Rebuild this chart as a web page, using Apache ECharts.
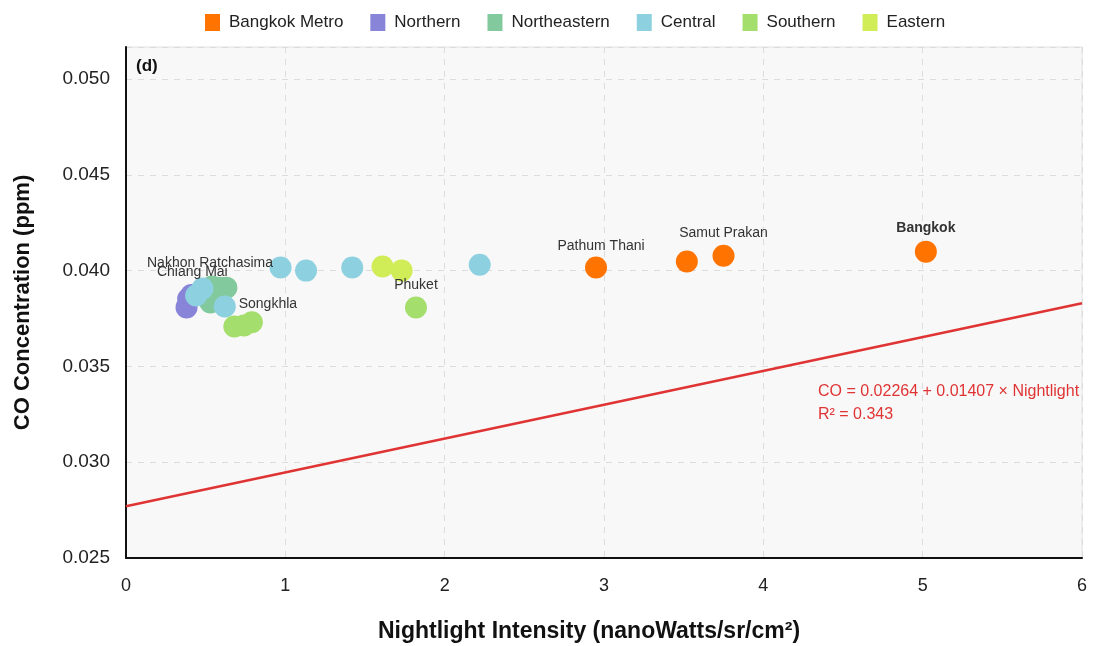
<!DOCTYPE html>
<html lang="en">
	<head>
		<meta charset="UTF-8">
		<title>CO vs Nightlight</title>
		<style type="text/css">
			html,
			body {
				width: 100%;
				height: 100%;
				margin: 0;
				padding: 0;
				background: #fff;
			}

			#main {
				width: 1093px;
				height: 646px;
			}
		</style>
	</head>
	<body>
		<div id="main"></div>

		<script src="https://cdn.jsdelivr.net/npm/echarts@6/dist/echarts.min.js" type="text/javascript" charset="utf-8"></script>
		<script type="text/javascript">
			// region names and colours
			let regions = ['Bangkok Metro', 'Northern', 'Northeastern', 'Central', 'Southern', 'Eastern'];
			let colors = ['#ff7300', '#8884d8', '#82ca9d', '#8dd1e1', '#a4de6c', '#d0ed57'];

			// [nightlight, CO] per province
			let bangkokMetro = [[2.95, 0.04016], [3.52, 0.04047], [3.75, 0.04078], [5.02, 0.04099]];
			let northern = [[0.38, 0.03808], [0.39, 0.03853], [0.41, 0.03872]];
			let northeastern = [[0.53, 0.03833], [0.515, 0.03854], [0.54, 0.03917], [0.59, 0.03911], [0.63, 0.03911]];
			let central = [[0.44, 0.03870], [0.48, 0.03906], [0.62, 0.03813], [0.97, 0.04016], [1.13, 0.04000], [1.42, 0.04016], [2.22, 0.04031]];
			let southern = [[0.68, 0.03708], [0.74, 0.03714], [0.79, 0.03730], [1.82, 0.03807]];
			let eastern = [[1.61, 0.04021], [1.73, 0.04000]];

			// province names: [series index, point index, name]
			let pointNames = [
				[0, 0, 'Pathum Thani'],
				[0, 2, 'Samut Prakan'],
				[0, 3, 'Bangkok'],
				[1, 2, 'Chiang Mai'],
				[2, 2, 'Nakhon Ratchasima'],
				[4, 2, 'Songkhla'],
				[4, 3, 'Phuket']
			];

			// drawn fit line
			let fitX = [0, 6];
			let fitY = [0.0277, 0.0383];
			let fitText = ['CO = 0.02264 + 0.01407 × Nightlight', 'R² = 0.343'];

			let xTicks = [0, 1, 2, 3, 4, 5, 6];
			let yTicks = [0.025, 0.030, 0.035, 0.040, 0.045, 0.050];

			let allData = [bangkokMetro, northern, northeastern, central, southern, eastern];

			// label nudges (px) so names sit like in the original
			let labelOffsets = {
				'Pathum Thani': [5, -21],
				'Samut Prakan': [0, -23],
				'Bangkok': [0, -23],
				'Chiang Mai': [1, -23],
				'Nakhon Ratchasima': [-2, -23],
				'Songkhla': [16, -18],
				'Phuket': [0, -22]
			};

			let font = "'Liberation Sans', Arial, sans-serif";

			let scatterSeries = allData.map((arr, si) => {
				let data = arr.map((p, pi) => {
					let item = { value: p };
					let found = pointNames.find(n => n[0] === si && n[1] === pi);
					if (found) {
						item.name = found[2];
						item.label = {
							show: true,
							position: 'inside',
							offset: labelOffsets[found[2]],
							formatter: '{b}',
							color: '#333',
							fontSize: 14,
							fontFamily: font,
							fontWeight: found[2] === 'Bangkok' ? 'bold' : 'normal'
						};
					}
					return item;
				});
				return {
					name: regions[si],
					type: 'scatter',
					symbolSize: 22,
					itemStyle: { color: colors[si], opacity: 1 },
					data: data,
					z: 3
				};
			});

			var myChart = echarts.init(document.getElementById('main'));
			var option = {
				animation: false,
				textStyle: { fontFamily: font },
				legend: {
					top: 9,
					left: 200,
					icon: 'rect',
					itemWidth: 15,
					itemHeight: 17,
					itemGap: 27,
					textStyle: { fontSize: 17, color: '#222', fontFamily: font, padding: [0, 0, 0, 4] },
					data: regions
				},
				grid: {
					left: 126,
					right: 11,
					top: 47,
					bottom: 88,
					outerBoundsMode: 'none',
					show: true,
					backgroundColor: '#f8f8f8',
					borderColor: '#e0e0e0',
					borderWidth: 1
				},
				xAxis: {
					type: 'value',
					min: xTicks[0],
					max: xTicks[xTicks.length - 1],
					interval: 1,
					name: 'Nightlight Intensity (nanoWatts/sr/cm²)',
					nameLocation: 'middle',
					nameGap: 62,
					nameTextStyle: { fontSize: 23, fontWeight: 'bold', color: '#111', fontFamily: font, padding: [0, 30, 0, 0] },
					axisLine: { show: true, onZero: false, lineStyle: { color: '#111', width: 2 } },
					axisTick: { show: false },
					axisLabel: { fontSize: 18, color: '#222', margin: 19, fontFamily: font },
					splitLine: { show: true, lineStyle: { type: [6, 6], color: '#dcdcdc' } }
				},
				yAxis: {
					type: 'value',
					min: yTicks[0],
					max: 0.05167,
					interval: 0.005,
					name: 'CO Concentration (ppm)',
					nameLocation: 'middle',
					nameGap: 92,
					nameTextStyle: { fontSize: 22, fontWeight: 'bold', color: '#111', fontFamily: font },
					axisLine: { show: true, lineStyle: { color: '#111', width: 2 } },
					axisTick: { show: false },
					axisLabel: {
						fontSize: 19,
						color: '#222',
						margin: 16,
						fontFamily: font,
						formatter: v => (yTicks.some(t => Math.abs(t - v) < 1e-9) ? v.toFixed(3) : '')
					},
					splitLine: { show: true, lineStyle: { type: [6, 6], color: '#dcdcdc' } }
				},
				graphic: [{
					type: 'text',
					left: 136,
					top: 58,
					style: { text: '(d)', font: 'bold 17px ' + font, fill: '#111' }
				}],
				series: scatterSeries.concat([{
					name: 'fit',
					type: 'line',
					data: fitX.map((x, i) => [x, fitY[i]]),
					symbol: 'none',
					lineStyle: { color: '#e03434', width: 2.5 },
					z: 2,
					markPoint: {
						symbol: 'rect',
						symbolSize: 1,
						itemStyle: { color: 'transparent' },
						label: {
							show: true,
							position: 'right',
							align: 'left',
							distance: 0,
							color: '#e03434',
							fontSize: 16,
							lineHeight: 23,
							fontFamily: font,
							formatter: fitText.join('\n')
						},
						data: [{ coord: [4.34, 0.03309] }]
					}
				}])
			};

			myChart.setOption(option);

			window.onresize = function() {
				myChart.resize();
			}
		</script>
	</body>
</html>
